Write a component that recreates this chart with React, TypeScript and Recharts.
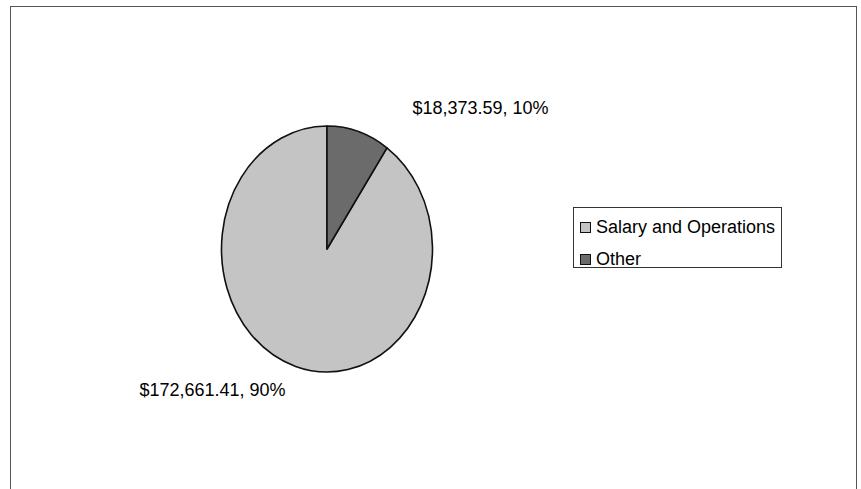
import React from 'react';
import { PieChart, Pie, Cell, Legend } from 'recharts';

const categories = ['Salary and Operations', 'Other'];
const amounts = [172661.41, 18373.59];
const colors = ['#c4c4c4', '#6b6b6b'];

const data = categories.map((name, i) => ({ name, value: amounts[i] }));

const RAD = Math.PI / 180;
const RX = 105.5;
const RY = 123;
const K = RY / RX;

const EllipseSector = (props: any) => {
  const { cx, cy, outerRadius, startAngle, endAngle, fill } = props;
  const rx = outerRadius;
  const ry = outerRadius * K;
  const x0 = cx + rx * Math.cos(-startAngle * RAD);
  const y0 = cy + ry * Math.sin(-startAngle * RAD);
  const x1 = cx + rx * Math.cos(-endAngle * RAD);
  const y1 = cy + ry * Math.sin(-endAngle * RAD);
  const large = Math.abs(endAngle - startAngle) > 180 ? 1 : 0;
  const sweep = startAngle > endAngle ? 1 : 0;
  const d = `M${cx},${cy} L${x0},${y0} A${rx},${ry} 0 ${large} ${sweep} ${x1},${y1} Z`;
  return <path d={d} fill={fill} stroke="#111" strokeWidth={1.6} strokeLinejoin="round" />;
};

const fmtMoney = (v: number) =>
  '$' + v.toLocaleString('en-US', { minimumFractionDigits: 2, maximumFractionDigits: 2 });

const renderLabel = (props: any) => {
  const { cx, cy, midAngle, outerRadius, percent, value } = props;
  const c = Math.cos(-midAngle * RAD);
  const s = Math.sin(-midAngle * RAD);
  const px = cx + outerRadius * c;
  const py = cy + outerRadius * K * s;
  const right = c >= 0;
  const x = right ? px + 54 : px - 10;
  const y = s < 0 ? py - 24 : py + 24;
  return (
    <text
      x={x}
      y={y}
      textAnchor={right ? 'start' : 'end'}
      dominantBaseline="central"
      fontFamily="'Liberation Sans', Arial, sans-serif"
      fontSize={18}
      fill="#000"
    >
      {`${fmtMoney(value)}, ${Math.round(percent * 100)}%`}
    </text>
  );
};

const LegendContent = (props: any) => {
  const payload = [...(props.payload || [])].sort(
    (a: any, b: any) => categories.indexOf(a.value) - categories.indexOf(b.value)
  );
  return (
    <div
      style={{
        width: 209,
        height: 61,
        border: '1.2px solid #333',
        boxSizing: 'border-box',
        fontFamily: "'Liberation Sans', Arial, sans-serif",
        fontSize: 18,
        color: '#000',
        position: 'relative',
        background: '#fff',
      }}
    >
      {payload.map((entry: any, i: number) => (
        <div
          key={i}
          style={{
            position: 'absolute',
            left: 6,
            top: i === 0 ? 8 : 40,
            height: 22,
            display: 'flex',
            alignItems: 'center',
            whiteSpace: 'nowrap',
          }}
        >
          <span
            style={{
              display: 'inline-block',
              width: 11,
              height: 11,
              background: entry.color,
              border: '1px solid #111',
              boxSizing: 'border-box',
              marginRight: 5,
            }}
          />
          <span>{entry.value}</span>
        </div>
      ))}
    </div>
  );
};

export default function App() {
  return (
    <div style={{ position: 'absolute', left: 0, top: 0, width: 861, height: 489, background: '#fff', overflow: 'hidden' }}>
      <div
        style={{
          position: 'absolute',
          left: 10,
          top: 6,
          width: 847,
          height: 520,
          border: '1.5px solid #555',
          boxSizing: 'border-box',
        }}
      />
      <PieChart
        width={861}
        height={489}
        margin={{ top: 0, right: 0, bottom: 0, left: 0 }}
        style={{ position: 'absolute', left: 0, top: 0 }}
      >
        <Pie
          data={data}
          dataKey="value"
          nameKey="name"
          cx={327}
          cy={249}
          outerRadius={RX}
          startAngle={90}
          endAngle={450}
          isAnimationActive={false}
          labelLine={false}
          label={renderLabel}
          shape={EllipseSector}
          activeShape={EllipseSector}
          inactiveShape={EllipseSector}
          stroke="#111"
        >
          {data.map((d, i) => (
            <Cell key={d.name} fill={colors[i]} />
          ))}
        </Pie>
        <Legend
          layout="vertical"
          align="right"
          verticalAlign="top"
          content={LegendContent}
          wrapperStyle={{ position: 'absolute', left: 573, top: 207, right: 'auto', width: 'auto' }}
        />
      </PieChart>
    </div>
  );
}
